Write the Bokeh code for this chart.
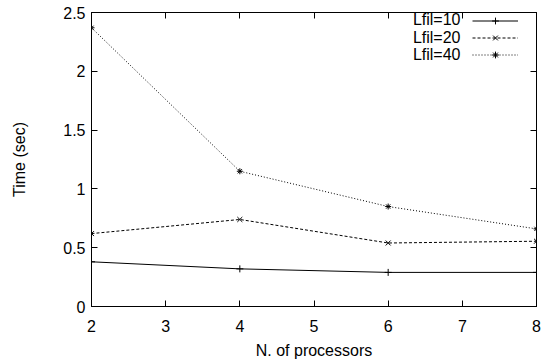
from bokeh.plotting import figure
from bokeh.models import Range1d, LinearAxis, FixedTicker, Legend, LegendItem, Label
from bokeh.embed import file_html
from bokeh.resources import INLINE

processors = [2, 4, 6, 8]
lfil10 = [0.38, 0.32, 0.29, 0.29]
lfil20 = [0.62, 0.74, 0.54, 0.555]
lfil40 = [2.37, 1.15, 0.85, 0.66]
series_names = ["Lfil=10", "Lfil=20", "Lfil=40"]
x_ticks = [2, 3, 4, 5, 6, 7, 8]
y_ticks = [0, 0.5, 1, 1.5, 2, 2.5]
y_tick_labels = ["0", "0.5", "1", "1.5", "2", "2.5"]

FONT = "Liberation Sans"
FS = "16px"

p = figure(width=552, height=364, output_backend="svg", toolbar_location=None,
           x_range=Range1d(2, 8), y_range=Range1d(0, 2.5),
           min_border_left=91, min_border_right=16, min_border_top=12, min_border_bottom=58)
p.grid.visible = False
p.outline_line_color = "black"
p.outline_line_width = 1
p.background_fill_color = "white"
p.border_fill_color = "white"

def style_axis(ax, ticks, show_labels=True):
    ax.ticker = FixedTicker(ticks=ticks)
    ax.minor_tick_line_color = None
    ax.major_tick_in = 6
    ax.major_tick_out = 0
    ax.axis_line_color = "black"
    ax.major_tick_line_color = "black"
    ax.major_label_text_font = FONT
    ax.major_label_text_font_size = FS
    ax.major_label_text_color = "black"
    ax.axis_label_text_font = FONT
    ax.axis_label_text_font_size = FS
    ax.axis_label_text_font_style = "normal"
    ax.axis_label_text_color = "black"
    if not show_labels:
        ax.major_label_overrides = {t: "" for t in ticks}
        ax.major_label_standoff = 0

style_axis(p.xaxis[0], x_ticks)
style_axis(p.yaxis[0], y_ticks)
p.yaxis[0].major_label_overrides = {v: s for v, s in zip(y_ticks, y_tick_labels)}
p.xaxis[0].axis_label = "N. of processors"
p.yaxis[0].axis_label = "Time (sec)"
p.xaxis[0].major_label_standoff = 13
p.xaxis[0].axis_label_standoff = 7
p.yaxis[0].major_label_standoff = 6
p.yaxis[0].axis_label_standoff = 32
p.yaxis[0].major_label_orientation = "horizontal"

top_ax = LinearAxis()
style_axis(top_ax, x_ticks, show_labels=False)
p.add_layout(top_ax, "above")
right_ax = LinearAxis()
style_axis(right_ax, y_ticks, show_labels=False)
p.add_layout(right_ax, "right")

r1l = p.line(processors, lfil10, line_color="black", line_width=1)
r1m = p.scatter(processors, lfil10, marker="cross", size=7, line_color="black", line_width=1)
r2l = p.line(processors, lfil20, line_color="black", line_width=1, line_dash="3 2")
r2m = p.scatter(processors, lfil20, marker="x", size=7, line_color="black", line_width=1)
r3l = p.line(processors, lfil40, line_color="black", line_width=1, line_dash="1 2")
r3m = p.scatter(processors, lfil40, marker="asterisk", size=6, line_color="black", line_width=1)

items = [LegendItem(label="", renderers=[r1l, r1m]),
         LegendItem(label="", renderers=[r2l, r2m]),
         LegendItem(label="", renderers=[r3l, r3m])]
leg = Legend(items=items, location=(381, 243), padding=0, margin=0, spacing=0,
             glyph_width=46, glyph_height=17, label_height=17, label_width=0,
             label_standoff=0, border_line_color=None, background_fill_alpha=0)
p.add_layout(leg, "center")

for i, name in enumerate(series_names):
    p.add_layout(Label(x=369, y=287 - 17.5 * i, x_units="screen", y_units="screen",
                       text=name, text_align="right", text_baseline="middle",
                       text_font=FONT, text_font_size=FS, text_color="black"))

open("out.html", "w").write(file_html(p, INLINE))
